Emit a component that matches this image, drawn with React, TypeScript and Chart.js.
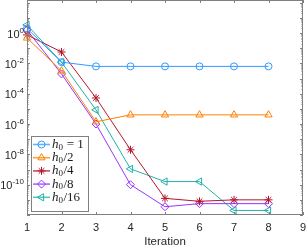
import React, { useEffect, useRef } from 'react';
import { Chart, registerables } from 'chart.js';
import { drawPoint } from 'chart.js/helpers';

Chart.register(...registerables);

const iterations = [1, 2, 3, 4, 5, 6, 7, 8];
const seriesLabels = ['h₀ = 1', 'h₀/2', 'h₀/4', 'h₀/8', 'h₀/16'];
const errH1 = [2.0, 1.2e-2, 6.3e-3, 6.3e-3, 6.3e-3, 6.3e-3, 6.3e-3, 6.3e-3];
const errH2 = [0.47, 3.2e-3, 1.4e-6, 4e-6, 4e-6, 4e-6, 4e-6, 4e-6];
const errH4 = [0.75, 5.6e-2, 5.2e-5, 2e-8, 1.25e-11, 8e-12, 1e-11, 1e-11];
const errH8 = [1.6, 2e-3, 1e-6, 1e-10, 3.5e-12, 5.6e-12, 5.6e-12, 5.6e-12];
const errH16 = [3.4, 1.2e-2, 8.5e-6, 1.1e-9, 1.6e-10, 1.6e-10, 2e-12, 2e-12];
const xTickValues = [1, 2, 3, 4, 5, 6, 7, 8, 9];
const yTickExponents = [0, -2, -4, -6, -8, -10];
const yMin = 1e-12;
const yMax = 150;

const colors = ['#3399ff', '#ff8000', '#b2182b', '#9933ff', '#20b2aa'];
const pointStyles = ['circle', 'triangle', 'star', 'rectRot', 'triangle'];
const pointRotations = [0, 0, 0, 0, 270];
const pointRadii = [3.5, 4.2, 4, 4, 4.2];
const allSeries = [errH1, errH2, errH4, errH8, errH16];

const FONT = '"Liberation Sans", Arial, sans-serif';

const framePlugin = {
  id: 'frame',
  afterDatasetsDraw(chart: any) {
    const { ctx, chartArea: a, scales } = chart;
    ctx.save();
    ctx.strokeStyle = '#808080';
    ctx.lineWidth = 1;
    ctx.strokeRect(a.left + 0.5, a.top + 0.5, a.right - a.left - 1, a.bottom - a.top - 1);
    ctx.beginPath();
    for (const t of xTickValues) {
      const px = Math.round(scales.x.getPixelForValue(t)) + 0.5;
      ctx.moveTo(px, a.bottom);
      ctx.lineTo(px, a.bottom - 3);
      ctx.moveTo(px, a.top);
      ctx.lineTo(px, a.top + 3);
    }
    for (let e = -12; e <= 2; e++) {
      for (let m = 1; m <= 9; m++) {
        const v = m * Math.pow(10, e);
        if (v < yMin || v > yMax) continue;
        const py = Math.round(scales.y.getPixelForValue(v)) + 0.5;
        const len = m === 1 ? 3 : 1.5;
        ctx.moveTo(a.left, py);
        ctx.lineTo(a.left + len, py);
        ctx.moveTo(a.right, py);
        ctx.lineTo(a.right - len, py);
      }
    }
    ctx.stroke();
    ctx.fillStyle = '#262626';
    ctx.textAlign = 'right';
    for (const e of yTickExponents) {
      const py = scales.y.getPixelForValue(Math.pow(10, e));
      const right = a.left - 3;
      ctx.font = `8px ${FONT}`;
      ctx.textBaseline = 'alphabetic';
      const exp = e < 0 ? '-' + String(-e) : String(e);
      ctx.fillText(exp, right, py - 0.5);
      const ew = ctx.measureText(exp).width;
      ctx.font = `11px ${FONT}`;
      ctx.textBaseline = 'middle';
      ctx.fillText('10', right - ew, py + 1.5);
    }
    ctx.restore();
  },
};

const legendPlugin = {
  id: 'boxLegend',
  afterDraw(chart: any) {
    const { ctx, chartArea: a } = chart;
    const w = 57;
    const h = 75;
    const left = a.left + 4;
    const top = a.bottom - 4 - h;
    ctx.save();
    ctx.fillStyle = '#ffffff';
    ctx.fillRect(left, top, w, h);
    ctx.strokeStyle = '#808080';
    ctx.lineWidth = 1;
    ctx.strokeRect(left + 0.5, top + 0.5, w, h);
    chart.data.datasets.forEach((ds: any, i: number) => {
      const y = top + 8.5 + i * 13.2;
      ctx.strokeStyle = ds.borderColor;
      ctx.lineWidth = 1.6;
      ctx.globalAlpha = 0.75;
      ctx.beginPath();
      ctx.moveTo(left + 2, y);
      ctx.lineTo(left + 19, y);
      ctx.stroke();
      ctx.globalAlpha = 1;
      ctx.lineWidth = 1;
      ctx.fillStyle = ds.pointBackgroundColor;
      drawPoint(ctx, { pointStyle: ds.pointStyle, rotation: ds.pointRotation, radius: ds.pointRadius, borderWidth: 1 } as any, left + 10.5, y);
      const label: string = ds.label;
      let x = left + 21;
      ctx.fillStyle = '#1a1a1a';
      ctx.textBaseline = 'middle';
      ctx.textAlign = 'left';
      ctx.font = 'italic 13px "Liberation Serif", serif';
      ctx.fillText(label[0], x, y);
      x += ctx.measureText(label[0]).width;
      ctx.font = '9px "Liberation Serif", serif';
      ctx.fillText('0', x, y + 3);
      x += ctx.measureText('0').width + 0.5;
      ctx.font = '13px "Liberation Serif", serif';
      ctx.fillText(label.slice(2), x, y);
    });
    ctx.restore();
  },
};

export default function App() {
  const ref = useRef<HTMLCanvasElement | null>(null);
  useEffect(() => {
    if (!ref.current) return;
    Chart.defaults.font.family = FONT;
    Chart.defaults.font.size = 11;
    Chart.defaults.color = '#262626';
    const chart = new Chart(ref.current, {
      type: 'line',
      data: {
        datasets: allSeries.map((s, i) => ({
          label: seriesLabels[i],
          data: s.map((v, j) => ({ x: iterations[j], y: v })),
          borderColor: colors[i],
          borderWidth: 1,
          pointStyle: pointStyles[i] as any,
          pointRotation: pointRotations[i],
          pointRadius: pointRadii[i],
          pointBorderWidth: 1,
          pointBorderColor: colors[i],
          pointBackgroundColor: pointStyles[i] === 'star' ? colors[i] : 'rgba(255,255,255,0)',
          clip: false as any,
          tension: 0,
        })),
      },
      options: {
        animation: false,
        responsive: false,
        layout: { autoPadding: false, padding: { top: 0, right: 4, left: 0, bottom: 0 } },
        plugins: { legend: { display: false }, tooltip: { enabled: false } },
        scales: {
          x: {
            type: 'linear',
            min: 1,
            max: 9,
            grid: { display: false, drawTicks: false },
            border: { display: false },
            afterBuildTicks: (scale: any) => {
              scale.ticks = xTickValues.map((v) => ({ value: v }));
            },
            afterFit: (scale: any) => {
              scale.height = 31;
              scale.paddingLeft = 0;
              scale.paddingRight = 0;
            },
            ticks: { padding: 6, maxRotation: 0, autoSkip: false, callback: (v: any) => String(v) },
            title: { display: true, text: 'Iteration', padding: { top: 0, bottom: -2.5 }, font: { size: 11.5 } },
          },
          y: {
            type: 'logarithmic',
            min: yMin,
            max: yMax,
            grid: { display: false, drawTicks: false },
            border: { display: false },
            afterBuildTicks: (scale: any) => {
              scale.ticks = yTickExponents.map((e) => ({ value: Math.pow(10, e) }));
            },
            afterFit: (scale: any) => {
              scale.width = 27;
              scale.paddingTop = 0;
              scale.paddingBottom = 0;
            },
            ticks: { display: false },
          },
        },
      },
      plugins: [framePlugin, legendPlugin],
    });
    return () => chart.destroy();
  }, []);
  return (
    <div style={{ position: 'fixed', left: 0, top: 0, width: 307, height: 246, background: '#fff' }}>
      <canvas ref={ref} width={307} height={246} style={{ width: 307, height: 246, display: 'block' }} />
    </div>
  );
}
